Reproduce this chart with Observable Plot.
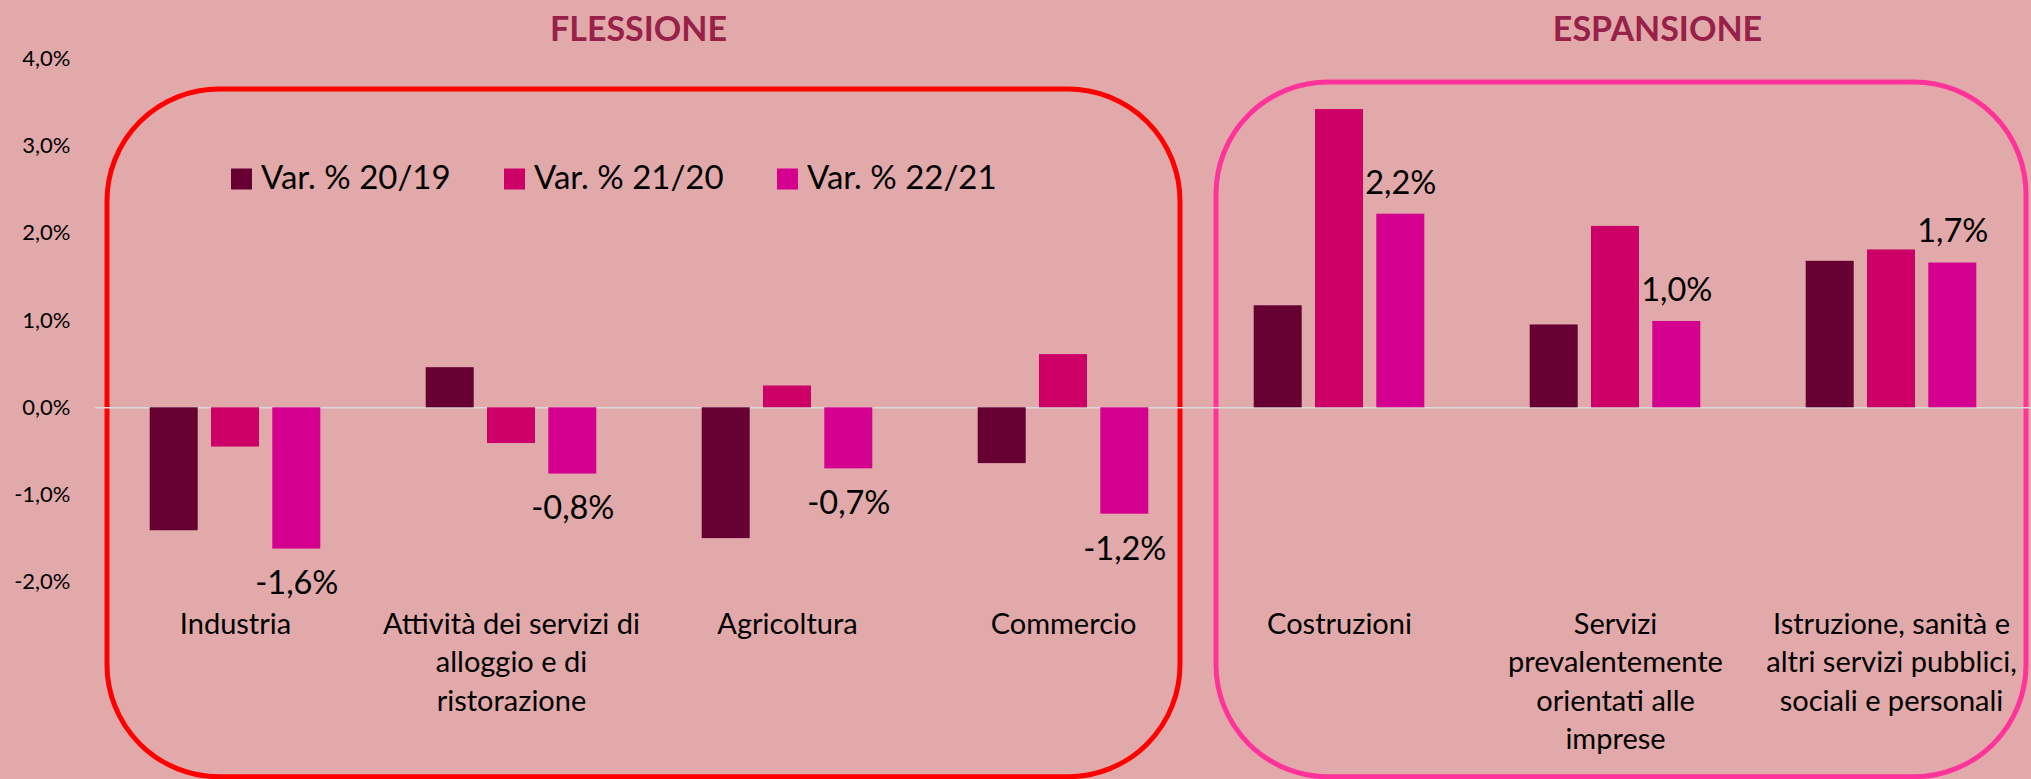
<!DOCTYPE html>
<html>
<head>
<meta charset="utf-8">
<script src="https://cdn.jsdelivr.net/npm/d3@7"></script>
<script src="https://cdn.jsdelivr.net/npm/@observablehq/plot@0.6"></script>
<style>
  html, body { margin: 0; padding: 0; background: #E2A9AA; }
  #chart { width: 2031px; height: 779px; }
</style>
</head>
<body>
<div id="chart"></div>
<script>
// ---- data ----
const categories = [
  "Industria",
  "Attività dei servizi di alloggio e di ristorazione",
  "Agricoltura",
  "Commercio",
  "Costruzioni",
  "Servizi prevalentemente orientati alle imprese",
  "Istruzione, sanità e altri servizi pubblici, sociali e personali"
];
const categoryLabels = [
  "Industria",
  "Attività dei servizi di\nalloggio e di\nristorazione",
  "Agricoltura",
  "Commercio",
  "Costruzioni",
  "Servizi\nprevalentemente\norientati alle\nimprese",
  "Istruzione, sanità e\naltri servizi pubblici,\nsociali e personali"
];
const seriesNames = ["Var. % 20/19", "Var. % 21/20", "Var. % 22/21"];
const var2019 = [-1.41, 0.46, -1.50, -0.64, 1.17, 0.95, 1.68];
const var2120 = [-0.45, -0.41, 0.25, 0.61, 3.42, 2.08, 1.81];
const var2221 = [-1.62, -0.76, -0.70, -1.22, 2.22, 0.99, 1.66];
const yTicks = [-2, -1, 0, 1, 2, 3, 4];
const groupNames = ["FLESSIONE", "ESPANSIONE"];
const groupMembers = [
  [categories[0], categories[1], categories[2], categories[3]],
  [categories[4], categories[5], categories[6]]
];

// ---- styles ----
const colors = ["#660033", "#CC0066", "#D4008F"];
const bg = "#E2A9AA";
const titleColor = "#98214A";
const boxColors = ["#FF0000", "#FF3399"];

const rows = [];
[var2019, var2120, var2221].forEach((arr, s) => {
  categories.forEach((c, i) => rows.push({category: c, series: seriesNames[s], s, value: arr[i]}));
});

const W = 2031, H = 779;
const mL = 95, mR = 0, mT = 58.5, mB = 197.3;
const stepPx = (W - mL - mR) / categories.length;
const barW = 48.3, barGap = 61.3;
const pInner = 1 - barW / stepPx;
const fmt = v => v.toFixed(1).replace(".", ",") + "%";
const font = "Lato, 'Open Sans', sans-serif";

const chart = Plot.plot({
  width: W, height: H,
  marginLeft: mL, marginRight: mR, marginTop: mT, marginBottom: mB,
  style: {background: bg, fontFamily: font, color: "#000", overflow: "visible"},
  x: {domain: categories, paddingInner: pInner, paddingOuter: pInner / 2, axis: null},
  y: {domain: [-2, 4], axis: null},
  color: {domain: seriesNames, range: colors},
  marks: [
    Plot.ruleY([0], {stroke: "#D9D9D9", strokeWidth: 1.5}),
    ...[0, 1, 2].map(s => Plot.barY(rows.filter(d => d.s === s), {
      x: "category", y: "value", fill: "series", dx: (s - 1) * barGap
    })),
    Plot.text(rows.filter(d => d.s === 2 && d.value >= 0), {
      x: "category", y: "value", text: d => fmt(d.value), dx: barGap, dy: -31,
      fontSize: 32.5, fill: "#000"
    }),
    Plot.text(rows.filter(d => d.s === 2 && d.value < 0), {
      x: "category", y: "value", text: d => fmt(d.value), dx: barGap, dy: 35,
      fontSize: 32.5, fill: "#000"
    }),
    Plot.axisY({ticks: yTicks, tickFormat: fmt, tickSize: 0, tickPadding: 25, fontSize: 22, label: null}),
    Plot.text(categories, {
      x: d => d, frameAnchor: "bottom", lineAnchor: "top", dy: 24,
      text: (d, i) => categoryLabels[i], fontSize: 29, lineHeight: 1.33, fill: "#000"
    }),
    Plot.text([groupNames[0]], {
      x: () => categories[1], frameAnchor: "top", lineAnchor: "middle", dy: -28.4, dx: 127,
      text: d => d, fontWeight: "bold", fontSize: 34, fill: titleColor
    }),
    Plot.text([groupNames[1]], {
      x: () => categories[5], frameAnchor: "top", lineAnchor: "middle", dy: -28.4, dx: 42,
      text: d => d, fontWeight: "bold", fontSize: 34, fill: titleColor
    })
  ]
});

document.getElementById("chart").appendChild(chart);

// ---- rounded group boxes, derived from the plot's scales ----
const xs = chart.scale("x"), ys = chart.scale("y");
const center = c => xs.apply(c) + xs.bandwidth / 2;
const step = center(categories[1]) - center(categories[0]);
const svg = d3.select(chart);
const boxG = svg.insert("g", ":first-child").attr("fill", "none").attr("stroke-width", 5);
const boxAdj = [{l: 10, r: -21, t: 30.5}, {l: 15, r: -3, t: 23.5}];
groupMembers.forEach((mem, g) => {
  const x1 = center(mem[0]) - step / 2 + boxAdj[g].l;
  const x2 = center(mem[mem.length - 1]) + step / 2 + boxAdj[g].r;
  const y1 = ys.apply(4) + boxAdj[g].t;
  const y2 = ys.apply(-2) + 195;
  boxG.append("rect")
    .attr("x", x1).attr("y", y1)
    .attr("width", x2 - x1).attr("height", y2 - y1)
    .attr("rx", 112).attr("ry", 112)
    .attr("stroke", boxColors[g]);
});

// ---- legend (inside the first box) ----
const lg = svg.append("g").attr("font-size", 33).attr("font-family", font).attr("text-anchor", "start");
const lgX0 = center(categories[0]) - 4, lgStep = 273, lgY = ys.apply(4) + 110;
seriesNames.forEach((n, i) => {
  const x0 = lgX0 + i * lgStep;
  lg.append("rect").attr("x", x0).attr("y", lgY).attr("width", 21).attr("height", 21).attr("fill", colors[i]);
  lg.append("text").attr("x", x0 + 30).attr("y", lgY + 20).attr("fill", "#000").attr("text-anchor", "start").text(n);
});
</script>
</body>
</html>
